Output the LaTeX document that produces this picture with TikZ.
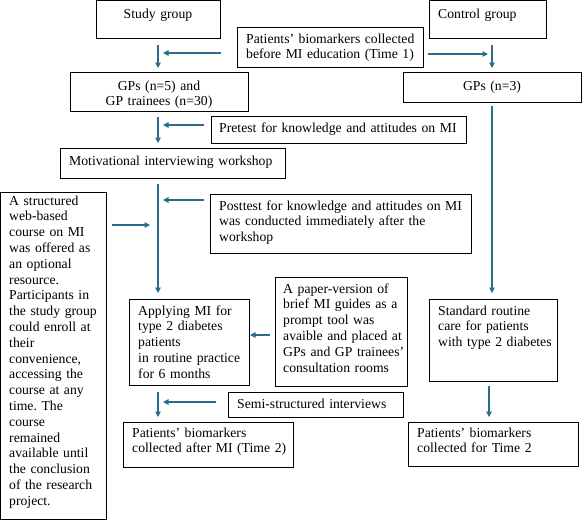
\documentclass[tikz,border=0pt]{standalone}
\usepackage{fontspec}
\setmainfont{Liberation Serif}
\usetikzlibrary{arrows.meta}
\definecolor{arrcol}{RGB}{43,108,140}
\newcommand\figfont{\fontsize{13.7}{15.8}\selectfont\frenchspacing}
\begin{document}
\begin{tikzpicture}[x=1pt,y=-1pt,
  box/.style={draw=black,line width=0.9pt,inner sep=0pt,outer sep=0pt,anchor=north west},
  txt/.style={inner sep=0pt,anchor=base west,align=left,text width=#1,font=\figfont},
  txt/.default=220pt,
  ctxt/.style={inner sep=0pt,anchor=base,align=center,text width=#1,font=\figfont},
  ctxt/.default=170pt,
  flow/.style={draw=arrcol,line width=1.1pt,-{Triangle[length=5.5pt,width=5.5pt]}}]
\useasboundingbox (0,0) rectangle (582,520);
% boxes
\node[box,minimum width=124pt,minimum height=37.5pt] (sgB) at (96,0.5) {};
\node[box,minimum width=186pt,minimum height=40pt] (pbB) at (237,27) {};
\node[box,minimum width=117pt,minimum height=37.5pt] (cgB) at (429,0.5) {};
\node[box,minimum width=178pt,minimum height=39pt] (gpfB) at (70,72) {};
\node[box,minimum width=178pt,minimum height=30pt] (gptB) at (403,72) {};
\node[box,minimum width=255pt,minimum height=27pt] (preB) at (211,116) {};
\node[box,minimum width=225pt,minimum height=30pt] (motB) at (60,148) {};
\node[box,minimum width=105.5pt,minimum height=327pt] (webB) at (0.5,192) {};
\node[box,minimum width=261pt,minimum height=59pt] (postB) at (210,194) {};
\node[box,minimum width=120pt,minimum height=86pt] (appB) at (129,299) {};
\node[box,minimum width=132pt,minimum height=109pt] (papB) at (275,277) {};
\node[box,minimum width=128pt,minimum height=82pt] (stdB) at (429,299) {};
\node[box,minimum width=175pt,minimum height=25pt] (semiB) at (228,392) {};
\node[box,minimum width=170pt,minimum height=45pt] (paB) at (123,422) {};
\node[box,minimum width=170pt,minimum height=44pt] (ptB) at (408,422) {};
% texts
\node[ctxt] (sgT) at (158,18) {Study group};
\node[txt] (cgT) at (438,18) {Control group};
\node[txt] (pbT) at (246,43) {Patients’ biomarkers collected\\before MI education (Time 1)};
\node[ctxt] (gpfT) at (159,90) {GPs (n=5) and\\GP trainees (n=30)};
\node[ctxt] (gptT) at (492,90) {GPs (n=3)};
\node[txt=260pt] (preT) at (219,132) {Pretest for knowledge and attitudes on MI};
\node[txt] (motT) at (69,165) {Motivational interviewing workshop};
\node[txt=260pt] (postT) at (219,210) {Posttest for knowledge and attitudes on MI\\was conducted immediately after the\\workshop};
\node[txt=100pt] (webT) at (9,205) {A structured\\web-based\\course on MI\\was offered as\\an optional\\resource.\\Participants in\\the study group\\could enroll at\\their\\convenience,\\accessing the\\course at any\\time. The\\course\\remained\\available until\\the conclusion\\of the research\\project.};
\node[txt=130pt] (papT) at (283,293) {A paper-version of\\brief MI guides as a\\prompt tool was\\avaible and placed at\\GPs and GP trainees’\\consultation rooms};
\node[txt=120pt] (appT) at (138,315) {Applying MI for\\type 2 diabetes\\patients\\in routine practice\\for 6 months};
\node[txt=125pt] (stdT) at (438,315) {Standard routine\\care for patients\\with type 2 diabetes};
\node[txt] (semiT) at (237,408) {Semi-structured interviews};
\node[txt] (paT) at (132,437) {Patients’ biomarkers\\collected after MI (Time 2)};
\node[txt] (ptT) at (417,437) {Patients’ biomarkers\\collected for Time 2};
% arrow end points
\coordinate (a1s) at (158,45);  \coordinate (a1e) at (158,68);
\coordinate (a2s) at (221,53);  \coordinate (a2e) at (163,53);
\coordinate (a3s) at (428,54);  \coordinate (a3e) at (488,54);
\coordinate (a4s) at (492,45);  \coordinate (a4e) at (492,68);
\coordinate (a5s) at (158,117); \coordinate (a5e) at (158,143);
\coordinate (a6s) at (204,125); \coordinate (a6e) at (163,125);
\coordinate (a7s) at (158,184); \coordinate (a7e) at (158,293);
\coordinate (a8s) at (112,225); \coordinate (a8e) at (150,225);
\coordinate (a9s) at (204,200); \coordinate (a9e) at (163,200);
\coordinate (a10s) at (270,335); \coordinate (a10e) at (250,335);
\coordinate (a11s) at (158,392); \coordinate (a11e) at (158,417);
\coordinate (a12s) at (216,402); \coordinate (a12e) at (163,402);
\coordinate (a13s) at (492,106); \coordinate (a13e) at (492,293);
\coordinate (a14s) at (489,386); \coordinate (a14e) at (489,417);
\foreach \i in {1,...,14} \draw[flow] (a\i s) -- (a\i e);
\end{tikzpicture}
\end{document}
